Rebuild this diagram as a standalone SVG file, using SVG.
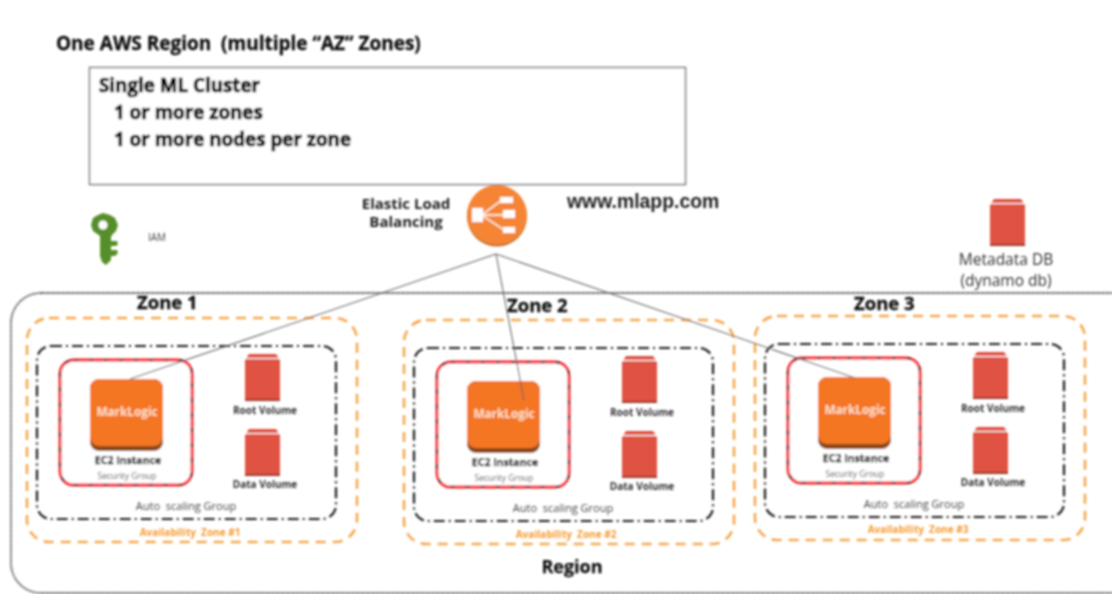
<svg xmlns="http://www.w3.org/2000/svg" width="1112" height="594" viewBox="0 0 1112 594">
<style>
text{font-family:"Open Sans","Liberation Sans",sans-serif;fill:#111;white-space:pre}
.b{font-weight:700}
.mid{text-anchor:middle}
.az{fill:none;stroke:#f5a850;stroke-width:2.6;stroke-dasharray:10 7}
.asg{fill:none;stroke:#222;stroke-width:2.2;stroke-dasharray:11 4 2 4}
.sg{fill:#fff;stroke:#f5202c;stroke-width:2.8}
.sgd{fill:none;stroke:#444;stroke-width:2.2;stroke-dasharray:4 11}
.vol{font-size:10px;font-weight:700;fill:#333;text-anchor:middle}
.azt{font-size:10px;font-weight:700;fill:#f59a30;text-anchor:middle}
.zn{font-size:18.500px;font-weight:700;stroke:#111;stroke-width:.3}
.cl{font-size:18.800px;font-weight:700;fill:#000;stroke:#000;stroke-width:.7}
.conn{fill:none;stroke:#666;stroke-width:1.1}
</style>
<defs>
<filter id="soft" x="-2%" y="-2%" width="104%" height="104%"><feGaussianBlur stdDeviation="0.8"/></filter>
<g id="volume">
<path d="M4 0H31L35 6V47H0V6Z" fill="#e05243"/>
<path d="M0 4.500H35" stroke="#fff" stroke-width="1" fill="none"/>
<path d="M0 46H35" stroke="#9a3a2e" stroke-width="2" fill="none"/>
</g>
<g id="zone">
<rect class="az" x="27" y="318" width="330" height="224" rx="22"/>
<rect class="asg" x="37" y="346" width="299" height="173" rx="14"/>
<rect class="sg" x="60" y="360" width="132" height="125" rx="14"/>
<rect class="sgd" x="60" y="360" width="132" height="125" rx="14"/>
<rect x="90" y="379" width="73" height="72" rx="9" fill="#8a4a1e"/>
<rect x="90" y="379" width="73" height="67" rx="9" fill="#f47521"/>
<text x="127" y="416" class="mid b" font-size="11.800" style="fill:#fde3cd">MarkLogic</text>
<text x="128" y="464" class="mid b" font-size="10.500" style="stroke:#111;stroke-width:.25">EC2 Instance</text>
<text x="127" y="479" class="mid" font-size="8.500" style="fill:#555">Security Group</text>
<use href="#volume" x="245" y="354"/>
<text x="265" y="414" class="vol">Root Volume</text>
<use href="#volume" x="245" y="429"/>
<text x="265" y="488" class="vol">Data Volume</text>
<text x="186" y="510" class="mid" font-size="11" style="fill:#444">Auto  scaling Group</text>
</g>
</defs>
<rect width="1112" height="594" fill="#fff"/>
<g filter="url(#soft)">
<g id="title"><text x="56" y="50" class="b" font-size="19" style="stroke:#111;stroke-width:.3">One AWS Region  (multiple “AZ” Zones)</text></g>
<g id="cluster">
<rect x="89.500" y="67.500" width="596" height="117" fill="#fff" stroke="#666" stroke-width="1.400"/>
<text x="99" y="92" class="cl">Single ML Cluster</text>
<text x="114" y="119" class="cl">1 or more zones</text>
<text x="114" y="146" class="cl">1 or more nodes per zone</text>
</g>
<g id="iam">
<path d="M103 213l7 2 5 3 3 7-2 6-4 4-1 2v4h6l1 3-2 2h-5v4h6l1 3-3 3h-4v4l-5 5-4-3-2-6V236l-7-5-2-6 2-7 5-3z" fill="#568f2a"/>
<circle cx="103" cy="225" r="4.500" fill="#fff"/>
<text x="148" y="241" font-size="10" style="fill:#444">IAM</text>
</g>
<g id="elb">
<circle cx="497" cy="216.500" r="30" fill="#b5631f"/>
<circle cx="497" cy="215" r="30" fill="#f58534"/>
<g fill="#fff"><rect x="472" y="208" width="11" height="14"/><rect x="500" y="197" width="13" height="6"/><rect x="503" y="210" width="12" height="8"/><rect x="503" y="227" width="12" height="6"/></g>
<path d="M483 214L502 200M483 215H504M483 216L504 230" stroke="#fff" stroke-width="1.500" fill="none"/>
<text x="406" y="209" class="mid b" font-size="15" style="fill:#222">Elastic Load</text>
<text x="406" y="227" class="mid b" font-size="15" style="fill:#222">Balancing</text>
</g>
<g id="url"><text x="567" y="208" class="b" font-size="19.400" style="fill:#222;font-family:'Liberation Sans',sans-serif">www.mlapp.com</text></g>
<g id="metadata">
<use href="#volume" x="990" y="199"/>
<text x="1006" y="265" class="mid" font-size="15.500" style="fill:#333">Metadata DB</text>
<text x="1006" y="286" class="mid" font-size="15.500" style="fill:#333">(dynamo db)</text>
</g>
<g id="region">
<rect x="11" y="293" width="1130" height="300" rx="30" fill="none" stroke="#333" stroke-width="1.800" stroke-dasharray="1.500 1"/>
<text x="572" y="573" class="mid b" font-size="18" style="stroke:#111;stroke-width:.25">Region</text>
</g>
<g id="zone1"><use href="#zone"/><text x="137" y="309" class="zn">Zone 1</text><text x="190" y="536" class="azt">Availability  Zone #1</text></g>
<g id="zone2"><use href="#zone" transform="translate(377 2)"/><text x="507" y="312" class="zn">Zone 2</text><text x="566" y="538" class="azt">Availability  Zone #2</text></g>
<g id="zone3"><use href="#zone" transform="translate(728 -2)"/><text x="854" y="310" class="zn">Zone 3</text><text x="918" y="533" class="azt">Availability  Zone #3</text></g>
<g id="connectors">
<path class="conn" d="M496 254L130 379"/>
<path class="conn" d="M496 254L524 400"/>
<path class="conn" d="M496 254L855 378"/>
</g>
</g>
</svg>
